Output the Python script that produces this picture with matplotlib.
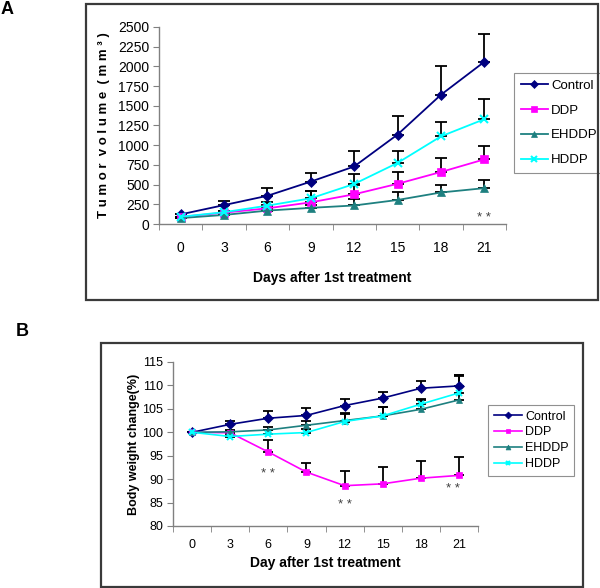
import matplotlib
matplotlib.use("Agg")
import matplotlib.pyplot as plt
from matplotlib.patches import Rectangle
import numpy as np

plt.rcParams['font.family'] = ['Liberation Sans', 'DejaVu Sans']

days = [0, 3, 6, 9, 12, 15, 18, 21]
series = ["Control", "DDP", "EHDDP", "HDDP"]
colors = ["#000080", "#FF00FF", "#1E8080", "#00FFFF"]
markers = ["D", "s", "^", "x"]

# Panel A: tumor volume (mm^3)
vol_control = [122, 240, 358, 538, 730, 1135, 1640, 2058]
vol_ddp = [90, 144, 199, 275, 377, 510, 660, 820]
vol_ehddp = [75, 115, 170, 205, 235, 305, 400, 455]
vol_hddp = [92, 150, 233, 326, 508, 775, 1112, 1330]
err_vol_control = [0, 55, 95, 115, 200, 235, 360, 355]
err_vol_ddp = [0, 15, 40, 150, 120, 150, 175, 165]
err_vol_ehddp = [0, 10, 25, 40, 80, 95, 100, 105]
err_vol_hddp = [0, 20, 45, 95, 130, 150, 180, 250]

# Panel B: body weight change (%)
bw_control = [100, 101.7, 103.0, 103.6, 105.7, 107.3, 109.4, 109.9]
bw_ddp = [100, 99.9, 95.8, 91.5, 88.6, 89.0, 90.2, 90.8]
bw_ehddp = [100, 100.1, 100.5, 101.5, 102.5, 103.5, 104.9, 106.9]
bw_hddp = [100, 99.1, 99.6, 99.95, 102.3, 103.5, 106.0, 108.4]
err_bw_control = [0, 0.8, 1.6, 1.6, 1.5, 1.2, 1.5, 2.4]
err_bw_ddp = [0, 0.3, 2.5, 2.0, 3.1, 3.5, 3.7, 3.9]
err_bw_ehddp = [0, 0.4, 0.6, 1.0, 1.7, 2.0, 1.9, 5.3]
err_bw_hddp = [0, 0.4, 0.8, 0.8, 1.5, 1.8, 1.2, 3.7]

W, H = 600, 588
fig = plt.figure(figsize=(6.0, 5.88), dpi=100)

def fx(px):
    return px / W

def fy(py):
    return 1 - py / H

# outer boxes
for (x0, y0, x1, y1) in [(86, 4, 598, 300), (101, 343, 583, 587)]:
    fig.patches.append(Rectangle((fx(x0), fy(y1)), fx(x1 - x0), (y1 - y0) / H,
                                 transform=fig.transFigure, fill=False,
                                 edgecolor="#3a3a3a", linewidth=1.6))

fig.text(fx(1), fy(10), "A", fontsize=13, fontweight="bold", va="center", ha="left")
fig.text(fx(16), fy(331), "B", fontsize=13, fontweight="bold", va="center", ha="left")


def style_axes(ax, ylim, yticks, tick_fs, xpad):
    ax.set_xlim(-1.5, 22.5)
    ax.set_ylim(*ylim)
    ax.set_yticks(yticks)
    ax.set_xticks(days)
    ax.set_xticklabels([str(d) for d in days])
    ax.set_xticks(np.arange(-1.5, 22.6, 3), minor=True)
    ax.tick_params(axis="x", which="major", length=0, pad=xpad, labelsize=tick_fs)
    ax.tick_params(axis="x", which="minor", length=4, direction="out", color="#808080")
    ax.tick_params(axis="y", which="major", length=4, direction="out", color="#808080",
                   labelsize=tick_fs, pad=3)
    for s in ["top", "right"]:
        ax.spines[s].set_visible(False)
    for s in ["left", "bottom"]:
        ax.spines[s].set_color("#808080")
        ax.spines[s].set_linewidth(1.0)


def draw(ax, vals, errs, ms, cap, lw):
    handles = []
    for name, v, e, c, m in zip(series, vals, errs, colors, markers):
        ax.errorbar(days, v, yerr=[np.zeros(len(e)), e], fmt="none", ecolor="black",
                    elinewidth=1.3, capsize=cap, capthick=1.3, zorder=2)
        mkw = dict(markeredgewidth=1.5) if m == "x" else dict(markeredgewidth=0.5)
        h, = ax.plot(days, v, color=c, marker=m, markersize=ms, linewidth=lw,
                     markerfacecolor=c, markeredgecolor=c, label=name, zorder=3,
                     clip_on=False, **mkw)
        handles.append(h)
    return handles

# Panel A
axA = fig.add_axes([fx(159), fy(224), fx(506 - 159), (224 - 27) / H])
style_axes(axA, (0, 2500), np.arange(0, 2501, 250), 10, 12)
hA = draw(axA, [vol_control, vol_ddp, vol_ehddp, vol_hddp],
          [err_vol_control, err_vol_ddp, err_vol_ehddp, err_vol_hddp], 5.5, 4.5, 1.3)
axA.set_ylabel("T u m o r  v o l u m e  ( m m ³ )", fontsize=9.5, fontweight="bold",
               labelpad=6)
axA.set_xlabel("Days after 1st treatment", fontsize=10, fontweight="bold", labelpad=12)
axA.text(21, 75, "* *", fontsize=9.5, color="#404040", ha="center", va="center")
legA = axA.legend(handles=hA, loc="upper left", bbox_to_anchor=(fx(514), fy(73)),
                  bbox_transform=fig.transFigure, borderaxespad=0, fancybox=False,
                  edgecolor="#909090", fontsize=9.5, handlelength=2.1, handletextpad=0.2,
                  labelspacing=0.95, borderpad=0.5, framealpha=1, markerscale=0.75)
legA.get_frame().set_linewidth(0.8)

# Panel B
axB = fig.add_axes([fx(173), fy(526), fx(478 - 173), (526 - 362) / H])
style_axes(axB, (80, 115), np.arange(80, 116, 5), 9, 9)
hB = draw(axB, [bw_control, bw_ddp, bw_ehddp, bw_hddp],
          [err_bw_control, err_bw_ddp, err_bw_ehddp, err_bw_hddp], 5, 3.5, 1.2)
axB.set_ylabel("Body weight change(%)", fontsize=9, fontweight="bold", labelpad=2)
axB.set_xlabel("Day after 1st treatment", fontsize=10, fontweight="bold", labelpad=4)
for x, y in [(6, 91.1), (12, 84.5), (20.5, 87.8)]:
    axB.text(x, y, "* *", fontsize=9.5, color="#404040", ha="center", va="center")
legB = axB.legend(handles=hB, loc="upper left", bbox_to_anchor=(fx(488), fy(405)),
                  bbox_transform=fig.transFigure, borderaxespad=0, fancybox=False,
                  edgecolor="#909090", fontsize=9, handlelength=2.3, handletextpad=0.2,
                  labelspacing=0.3, borderpad=0.45, framealpha=1, markerscale=0.7)
legB.get_frame().set_linewidth(0.8)

fig.savefig("out.png", dpi=100)
